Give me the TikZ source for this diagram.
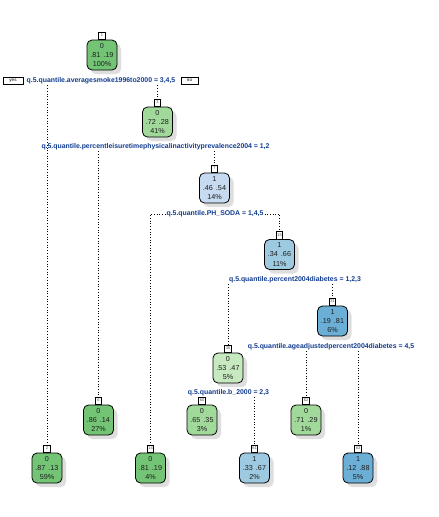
\documentclass[tikz,border=0pt]{standalone}
\usepackage{fontspec}
\setmainfont{Liberation Sans}
\usetikzlibrary{shadows}

% fill colours by class and purity
\definecolor{gDark}{HTML}{74C476}
\definecolor{gMid}{HTML}{A1D99B}
\definecolor{gLight}{HTML}{C7E9C0}
\definecolor{bLight}{HTML}{C6DBEF}
\definecolor{bMid}{HTML}{9ECAE1}
\definecolor{bDark}{HTML}{6BAED6}
\definecolor{splitcol}{HTML}{123D8F}
\definecolor{nodetext}{HTML}{1E1E1E}

\tikzset{
  treenode/.style={draw=black, line width=0.8pt, rounded corners=5pt,
    minimum width=30pt, minimum height=30pt, inner sep=0pt,
    align=center, text=nodetext,
    font=\fontsize{7.2}{9.4}\selectfont,
    drop shadow={shadow xshift=4pt, shadow yshift=-4pt, fill=black!25}},
  numbox/.style={draw=black, fill=white, line width=0.6pt, anchor=south,
    minimum width=6.5pt, minimum height=7.5pt, inner sep=0.6pt,
    font=\fontsize{4}{4}\selectfont, text=black!70},
  splitlabel/.style={text=splitcol, inner sep=1pt,
    font=\bfseries\fontsize{6.9}{8}\selectfont},
  yesno/.style={draw=black, line width=0.6pt, fill=white,
    minimum height=7pt, inner sep=0.8pt,
    font=\fontsize{4.5}{5}\selectfont},
  branch/.style={draw=black, line width=0.7pt, dotted}
}

\newcommand{\probs}[2]{#1\hspace{3pt}#2}

\begin{document}
\begin{tikzpicture}[x=1pt,y=-1pt]
\useasboundingbox[fill=white] (0,0) rectangle (439,517);

% ---- tree nodes ----
\node[treenode, fill=gDark]  (n1)  at (102,55)    {0\\\probs{.81}{.19}\\100\%};
\node[treenode, fill=gDark]  (n2)  at (47,468)    {0\\\probs{.87}{.13}\\59\%};
\node[treenode, fill=gMid]   (n3)  at (157.5,122) {0\\\probs{.72}{.28}\\41\%};
\node[treenode, fill=gDark]  (n6)  at (98.5,420)  {0\\\probs{.86}{.14}\\27\%};
\node[treenode, fill=bLight] (n7)  at (214.5,188) {1\\\probs{.46}{.54}\\14\%};
\node[treenode, fill=gDark]  (n14) at (150.5,468) {0\\\probs{.81}{.19}\\4\%};
\node[treenode, fill=bMid]   (n15) at (279.5,254.5) {1\\\probs{.34}{.66}\\11\%};
\node[treenode, fill=gLight] (n30) at (228,368)   {0\\\probs{.53}{.47}\\5\%};
\node[treenode, fill=bDark]  (n31) at (332.5,321) {1\\\probs{.19}{.81}\\6\%};
\node[treenode, fill=gMid]   (n60) at (202,420)   {0\\\probs{.65}{.35}\\3\%};
\node[treenode, fill=bMid]   (n61) at (254.5,468) {1\\\probs{.33}{.67}\\2\%};
\node[treenode, fill=gMid]   (n62) at (306,420)   {0\\\probs{.71}{.29}\\1\%};
\node[treenode, fill=bDark]  (n63) at (358,468)   {1\\\probs{.12}{.88}\\5\%};

% ---- node number tags ----
\foreach \k in {1,2,3,6,7,14,15,30,31,60,61,62,63}
  \node[numbox] (b\k) at (n\k.north) {\k};

% ---- split labels ----
\node[splitlabel] (L1)  at (101,81)   {q.5.quantile.averagesmoke1996to2000 = 3,4,5};
\node[yesno, minimum width=20pt] (yes) at (13,80.5)  {yes};
\node[yesno, minimum width=17pt] (no)  at (189.5,80.5) {no};
\node[splitlabel] (L3)  at (155.5,147) {q.5.quantile.percentleisuretimephysicalinactivityprevalence2004 = 1,2};
\node[splitlabel] (L7)  at (215,214)   {q.5.quantile.PH\_SODA = 1,4,5};
\node[splitlabel] (L15) at (295,280)   {q.5.quantile.percent2004diabetes = 1,2,3};
\node[splitlabel] (L31) at (331,347)   {q.5.quantile.ageadjustedpercent2004diabetes = 4,5};
\node[splitlabel] (L30) at (228.5,393) {q.5.quantile.b\_2000 = 2,3};

% ---- branches ----
\draw[branch] (L1.south -| b2.north) -- (b2.north);
\draw[branch] (L1.south -| b3.north) -- (b3.north);
\draw[branch] (L3.south -| b6.north) -- (b6.north);
\draw[branch] (L3.south -| b7.north) -- (b7.north);
\draw[branch] (L7.west) -- (L7.west -| b14.north) -- (b14.north);
\draw[branch] (L7.east) -- (L7.east -| b15.north) -- (b15.north);
\draw[branch] (L15.south -| b30.north) -- (b30.north);
\draw[branch] (L15.south -| b31.north) -- (b31.north);
\draw[branch] (L30.south -| b60.north) -- (b60.north);
\draw[branch] (L30.south -| b61.north) -- (b61.north);
\draw[branch] (L31.south -| b62.north) -- (b62.north);
\draw[branch] (L31.south -| b63.north) -- (b63.north);
\end{tikzpicture}
\end{document}
